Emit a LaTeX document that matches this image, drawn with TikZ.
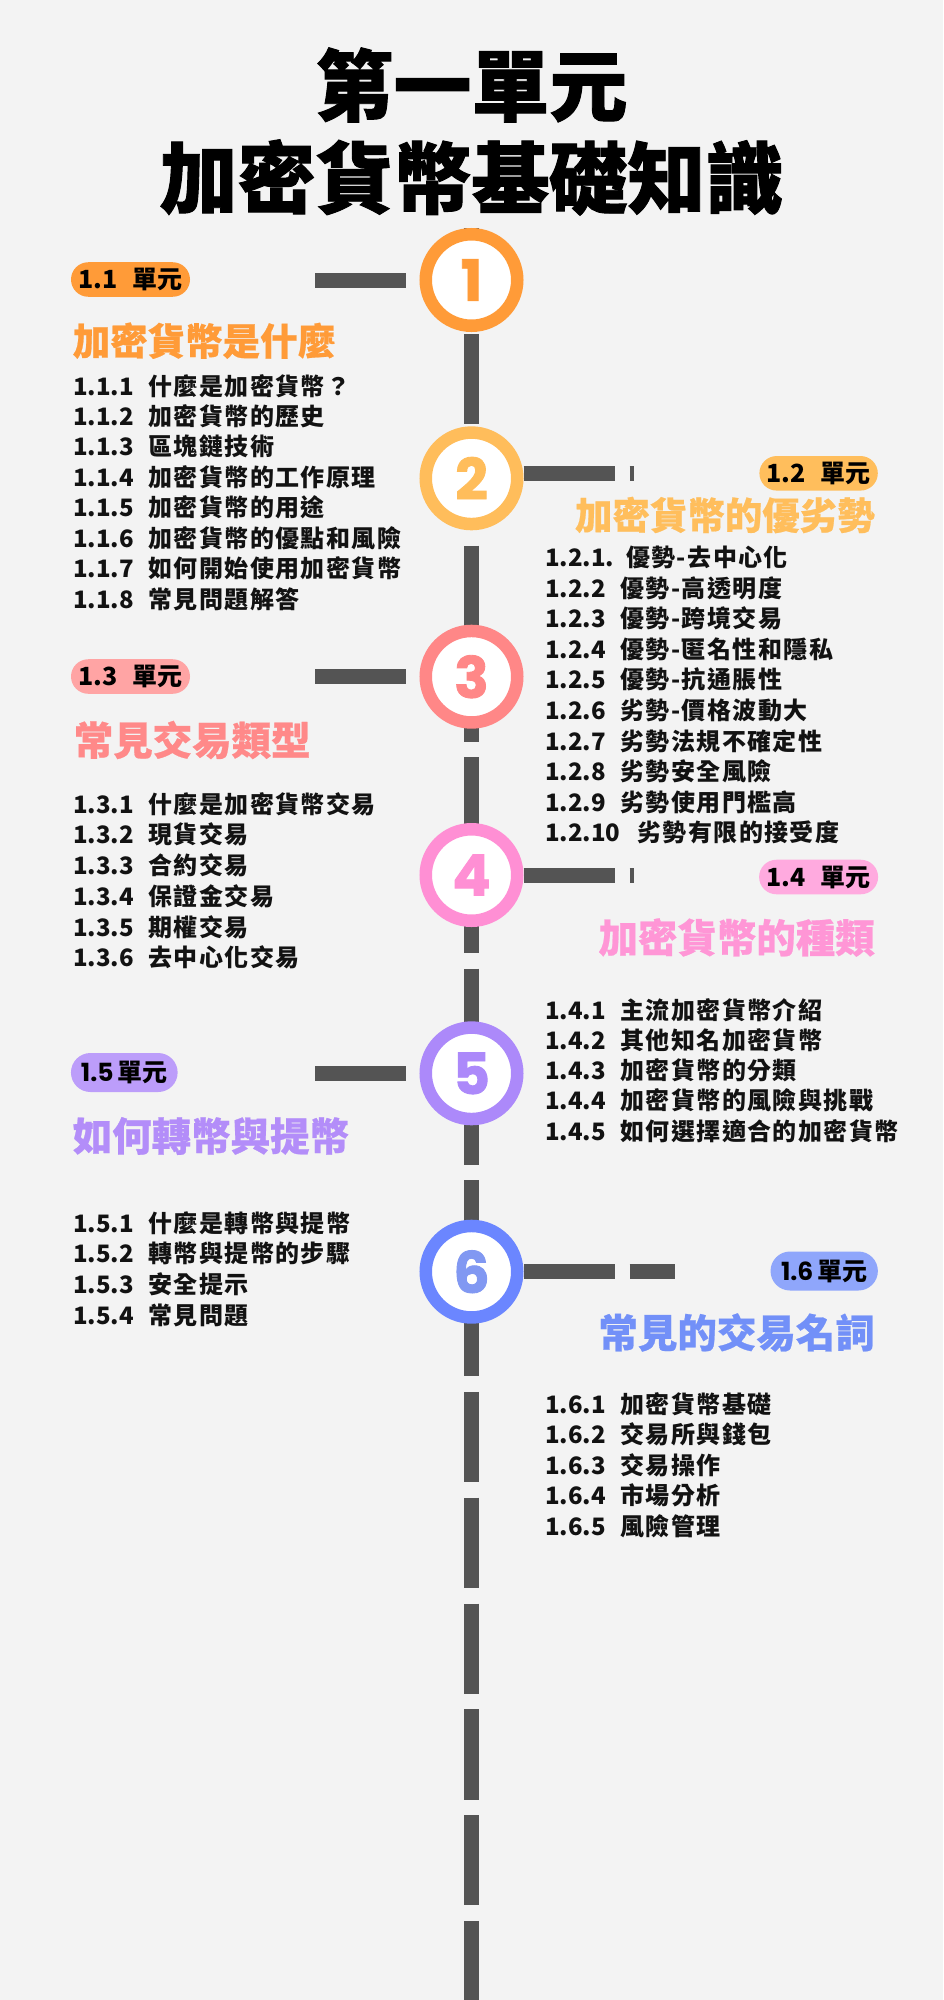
\documentclass[tikz,border=0pt]{standalone}
\usepackage{fontspec}
\setmainfont{Noto Sans CJK TC}
\newfontfamily\pop{Poppins}
\usetikzlibrary{calc}
\definecolor{bg}{HTML}{F3F3F3}
\definecolor{bargrey}{HTML}{545454}
\definecolor{col1}{HTML}{FF9B38}
\definecolor{col2}{HTML}{FFBD5B}
\definecolor{col3}{HTML}{FF8787}
\definecolor{col4}{HTML}{FF8FD4}
\definecolor{col5}{HTML}{AC89FA}
\definecolor{col6}{HTML}{6B86FF}
\definecolor{num6}{HTML}{8198F2}
\definecolor{pil1}{HTML}{FF9B38}
\definecolor{pil2}{HTML}{FFBE5C}
\definecolor{pil3}{HTML}{FFA4A4}
\definecolor{pil4}{HTML}{FFAADF}
\definecolor{pil5}{HTML}{BC9DFA}
\definecolor{pil6}{HTML}{8FA6FB}
\definecolor{hd1}{HTML}{FF9B38}
\definecolor{hd2}{HTML}{FFBE5C}
\definecolor{hd3}{HTML}{FF8989}
\definecolor{hd4}{HTML}{FF96D6}
\definecolor{hd5}{HTML}{B38DF9}
\definecolor{hd6}{HTML}{7290F8}
\newcommand\itm[3][56.3pt]{\makebox[#1][l]{#2}{\addfontfeature{LetterSpace=6}#3}}
\begin{document}
\begin{tikzpicture}[x=0.75pt,y=-0.75pt,
  spine/.style={draw=bargrey, line width=11.25pt, dash pattern=on 67.65pt off 11.7pt},
  bar/.style={draw=bargrey, line width=11.25pt},
  rbar/.style={bar, dash pattern=on 68.25pt off 11.25pt},
  ring/.style={circle, fill=white, line width=9.375pt, minimum size=68.625pt, inner sep=0pt},
  num/.style={inner sep=0pt, font={\pop\bfseries\fontsize{42.75}{44}\selectfont\addfontfeature{FakeBold=1.5}}},
  pill/.style={rectangle, inner sep=0pt, text=black, font={\bfseries\fontsize{18.75}{20}\selectfont}},
  pillA/.style={pill, minimum height=25.9pt, rounded corners=12.95pt},
  pillB/.style={pill, minimum height=29.25pt, rounded corners=14.6pt},
  headA/.style={inner sep=0pt, font={\bfseries\fontsize{28.1}{30}\selectfont\addfontfeature{FakeBold=0.6}}},
  headB/.style={inner sep=0pt, font={\bfseries\fontsize{29.6}{32}\selectfont\addfontfeature{FakeBold=0.6}}},
  item/.style={inner sep=0pt, anchor=base west, text=black!93, font={\bfseries\fontsize{18}{20}\selectfont}},
  ttl/.style={inner sep=0pt, text=black, font={\bfseries\fontsize{58.5}{60}\selectfont\addfontfeature{FakeBold=1.2}}}
]
\fill[bg] (0,0) rectangle (943,2000);
\useasboundingbox (0,0) rectangle (943,2000);

% title
\node[ttl] (t1) at (471.5,85) {第一單元};
\node[ttl] (t2) at (471.5,177.5) {加密貨幣基礎知識};

% spine
\coordinate (top) at (471.5,228.1);
\coordinate (bot) at (471.5,2000);
\draw[spine] (top) -- (bot);

% circles
\node[ring, draw=col1] (c1) at (471.5,280) {};
\node[ring, draw=col2] (c2) at (471.5,478.3) {};
\node[ring, draw=col3] (c3) at (471.5,676.7) {};
\node[ring, draw=col4] (c4) at (471.5,875) {};
\node[ring, draw=col5] (c5) at (471.5,1073.3) {};
\node[ring, draw=col6] (c6) at (471.5,1271.7) {};
\node[num, text=col1] (n1) at (c1.center) {1};
\node[num, text=col2] (n2) at (c2.center) {2};
\node[num, text=col3] (n3) at (c3.center) {3};
\node[num, text=col4] (n4) at (c4.center) {4};
\node[num, text=col5] (n5) at (c5.center) {5};
\node[num, text=num6] (n6) at (c6.center) {6};

% left bars
\coordinate (l1a) at (315,280);  \coordinate (l1b) at (406,280);
\coordinate (l3a) at (315,676.5); \coordinate (l3b) at (406,676.5);
\coordinate (l5a) at (315,1073); \coordinate (l5b) at (406,1073);
\draw[bar] (l1a) -- (l1b);
\draw[bar] (l3a) -- (l3b);
\draw[bar] (l5a) -- (l5b);
% right bars
\coordinate (r2b) at (634,473);
\coordinate (r4b) at (634,875.8);
\coordinate (r6b) at (675,1271.3);
\draw[rbar] (c2.east |- r2b) -- (r2b);
\draw[rbar] (c4.east |- r4b) -- (r4b);
\draw[rbar] (c6.east |- r6b) -- (r6b);

% pills
\node[pillA, fill=pil1, minimum width=89.25pt] (p1) at (130.5,279.5) {1.1\hspace{11pt}單元};
\node[pillA, fill=pil2, minimum width=88.8pt] (p2) at (818.6,473.3) {1.2\hspace{11pt}單元};
\node[pillA, fill=pil3, minimum width=89.25pt] (p3) at (130.5,676.5) {1.3\hspace{11pt}單元};
\node[pillA, fill=pil4, minimum width=89.25pt] (p4) at (818.6,877) {1.4\hspace{11pt}單元};
\node[pillB, fill=pil5, minimum width=80pt] (p5) at (124.3,1072.5) {{\pop\bfseries 1.5}\hspace{3pt}單元};
\node[pillB, fill=pil6, minimum width=80.5pt] (p6) at (824.2,1271) {{\pop\bfseries 1.6}\hspace{3pt}單元};

% headings
\node[headA, text=hd1, anchor=west] (h1) at (72.5,340.7) {加密貨幣是什麼};
\node[headA, text=hd2, anchor=east] (h2) at (875,515) {加密貨幣的優劣勢};
\node[headB, text=hd3, anchor=west] (h3) at (73.5,740) {常見交易類型};
\node[headB, text=hd4, anchor=east] (h4) at (875,937.5) {加密貨幣的種類};
\node[headB, text=hd5, anchor=west] (h5) at (72.5,1136) {如何轉幣與提幣};
\node[headB, text=hd6, anchor=east] (h6) at (875,1332.5) {常見的交易名詞};

% lists
\foreach [count=\i from 0] \t in {
  {\itm{1.1.1}{什麼是加密貨幣？}},
  {\itm{1.1.2}{加密貨幣的歷史}},
  {\itm{1.1.3}{區塊鏈技術}},
  {\itm{1.1.4}{加密貨幣的工作原理}},
  {\itm{1.1.5}{加密貨幣的用途}},
  {\itm{1.1.6}{加密貨幣的優點和風險}},
  {\itm{1.1.7}{如何開始使用加密貨幣}},
  {\itm{1.1.8}{常見問題解答}}}
  \node[item] (la\i) at (73,{395+30.47*\i}) {\t};

\foreach [count=\i from 0] \t in {
  {\itm[60.6pt]{1.2.1.}{優勢-去中心化}},
  {\itm{1.2.2}{優勢-高透明度}},
  {\itm{1.2.3}{優勢-跨境交易}},
  {\itm{1.2.4}{優勢-匿名性和隱私}},
  {\itm{1.2.5}{優勢-抗通脹性}},
  {\itm{1.2.6}{劣勢-價格波動大}},
  {\itm{1.2.7}{劣勢法規不確定性}},
  {\itm{1.2.8}{劣勢安全風險}},
  {\itm{1.2.9}{劣勢使用門檻高}},
  {\itm[69pt]{1.2.10}{劣勢有限的接受度}}}
  \node[item] (lb\i) at (545,{566.7+30.56*\i}) {\t};

\foreach [count=\i from 0] \t in {
  {\itm{1.3.1}{什麼是加密貨幣交易}},
  {\itm{1.3.2}{現貨交易}},
  {\itm{1.3.3}{合約交易}},
  {\itm{1.3.4}{保證金交易}},
  {\itm{1.3.5}{期權交易}},
  {\itm{1.3.6}{去中心化交易}}}
  \node[item] (lc\i) at (73,{813.3+30.68*\i}) {\t};

\foreach [count=\i from 0] \t in {
  {\itm{1.4.1}{主流加密貨幣介紹}},
  {\itm{1.4.2}{其他知名加密貨幣}},
  {\itm{1.4.3}{加密貨幣的分類}},
  {\itm{1.4.4}{加密貨幣的風險與挑戰}},
  {\itm{1.4.5}{如何選擇適合的加密貨幣}}}
  \node[item] (ld\i) at (545,{1019+30.25*\i}) {\t};

\foreach [count=\i from 0] \t in {
  {\itm{1.5.1}{什麼是轉幣與提幣}},
  {\itm{1.5.2}{轉幣與提幣的步驟}},
  {\itm{1.5.3}{安全提示}},
  {\itm{1.5.4}{常見問題}}}
  \node[item] (le\i) at (73,{1232.3+30.57*\i}) {\t};

\foreach [count=\i from 0] \t in {
  {\itm{1.6.1}{加密貨幣基礎}},
  {\itm{1.6.2}{交易所與錢包}},
  {\itm{1.6.3}{交易操作}},
  {\itm{1.6.4}{市場分析}},
  {\itm{1.6.5}{風險管理}}}
  \node[item] (lf\i) at (545,{1413.3+30.43*\i}) {\t};
\end{tikzpicture}
\end{document}
